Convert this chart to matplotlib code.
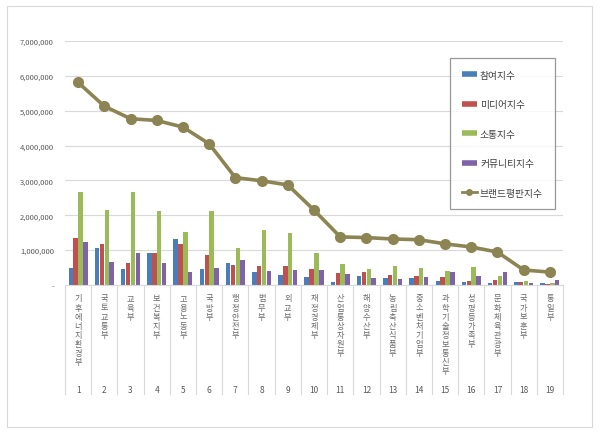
import numpy as np
import matplotlib
matplotlib.use("Agg")
import matplotlib.pyplot as plt
from matplotlib.lines import Line2D
from matplotlib.patches import Rectangle
import matplotlib.transforms as mtransforms

plt.rcParams['font.family'] = ['Noto Sans CJK KR', 'DejaVu Sans']

# ministries (ranked 1..19)
ministries = ['기후에너지환경부', '국토교통부', '교육부', '보건복지부', '고용노동부',
              '국방부', '행정안전부', '법무부', '외교부', '재정경제부',
              '산업통상자원부', '해양수산부', '농림축산식품부', '중소벤처기업부',
              '과학기술정보통신부', '성평등가족부', '문화체육관광부', '국가보훈부', '통일부']
ranks = [str(i) for i in range(1, 20)]

participation = [480000, 1070000, 450000, 930000, 1330000, 470000, 640000, 360000, 290000, 230000,
                 80000, 270000, 190000, 210000, 110000, 90000, 50000, 100000, 70000]
media = [1350000, 1170000, 620000, 910000, 1190000, 860000, 580000, 540000, 540000, 470000,
         330000, 360000, 300000, 250000, 230000, 120000, 140000, 90000, 40000]
communication = [2660000, 2150000, 2660000, 2130000, 1530000, 2130000, 1060000, 1580000, 1490000, 910000,
                 600000, 450000, 550000, 490000, 390000, 520000, 270000, 110000, 50000]
community = [1220000, 650000, 930000, 640000, 380000, 490000, 730000, 400000, 440000, 440000,
             310000, 200000, 170000, 230000, 360000, 250000, 370000, 50000, 130000]
brand = [5810000, 5130000, 4770000, 4720000, 4530000, 4050000, 3080000, 2990000, 2870000, 2150000,
         1380000, 1360000, 1320000, 1300000, 1180000, 1090000, 945000, 430000, 370000]

series_names = ['참여지수', '미디어지수', '소통지수', '커뮤니티지수', '브랜드평판지수']
bar_colors = ['#4a7ebb', '#c0504d', '#9bbb59', '#7f62a8']
line_color = '#8c8452'
grid_color = '#d9d9d9'
text_color = '#595959'

fig = plt.figure(figsize=(6, 4.35), dpi=100)
ax = fig.add_axes([65 / 600, 1 - 286 / 435, 498 / 600, 244 / 435])

x = np.arange(len(ministries))
bw = 0.17
for i, vals in enumerate([participation, media, communication, community]):
    ax.bar(x + (i - 1.5) * 0.185, vals, bw, color=bar_colors[i], zorder=2)
ax.plot(x, brand, color=line_color, lw=2.6, marker='o', ms=7, zorder=3)

ax.set_xlim(-0.5, len(ministries) - 0.5)
ax.set_ylim(0, 7000000)
ax.set_yticks(range(0, 7000001, 1000000))
ax.set_yticklabels(['-'] + ['{:,}'.format(v) for v in range(1000000, 7000001, 1000000)])
ax.tick_params(axis='y', length=0, labelsize=5.5, labelcolor=text_color, pad=8)
ax.set_xticks([])
ax.yaxis.grid(True, color=grid_color, lw=0.8, zorder=0)
for s in ['top', 'right', 'left']:
    ax.spines[s].set_visible(False)
ax.spines['bottom'].set_color(grid_color)

# category labels: one character per line, rank below, separators between
trans = mtransforms.blended_transform_factory(ax.transData, ax.transAxes)
for k in range(len(ministries) + 1):
    ax.plot([k - 0.5, k - 0.5], [0, -0.447], transform=trans, color=grid_color,
            lw=0.8, clip_on=False)
step = 9.1 / 244
for k, name in enumerate(ministries):
    for j, ch in enumerate(name):
        ax.text(k, -0.053 - j * step, ch, transform=trans, ha='center', va='center',
                fontsize=5.9, color='#6a6a6a')
    ax.text(k, -0.43, ranks[k], transform=trans, ha='center', va='center',
            fontsize=6, color=text_color)

handles = [Line2D([0], [0], color=c, lw=4, solid_capstyle='butt') for c in bar_colors]
handles.append(Line2D([0], [0], color=line_color, lw=2, marker='o', ms=4))
leg = ax.legend(handles, series_names, loc='upper left', bbox_to_anchor=(0.763, 0.95),
                fontsize=7, labelspacing=2.0, handlelength=1.6, handletextpad=0.3,
                borderpad=1.2, frameon=True, fancybox=False)
leg.get_frame().set_edgecolor('#7f7f7f')
leg.get_frame().set_linewidth(0.9)
for t in leg.get_texts():
    t.set_color('#404040')

fig.patches.append(Rectangle((7 / 600, 7 / 435), 585 / 600, 421 / 435, transform=fig.transFigure,
                             fill=False, edgecolor=grid_color, lw=0.8))

fig.savefig('out.png', dpi=100)
